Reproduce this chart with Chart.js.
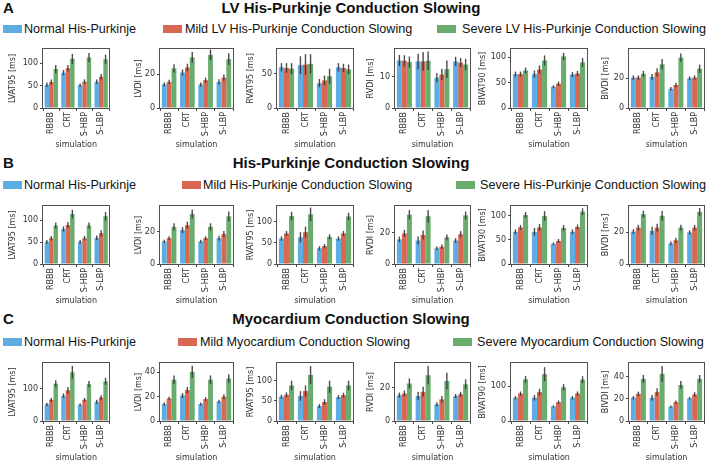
<!DOCTYPE html>
<html>
<head>
<meta charset="utf-8">
<script src="https://cdn.jsdelivr.net/npm/chart.js@4.4.1/dist/chart.umd.min.js"></script>
<style>
    body { margin: 0; background: #fff; width: 708px; height: 463px; position: relative; overflow: hidden; font-family: "Liberation Sans", Arial, sans-serif; color: #111; }
    .letra { position: absolute; left: 3px; font-weight: bold; font-size: 15px; line-height: 16px; }
    .titulo { position: absolute; left: 0; width: 702px; text-align: center; font-weight: bold; font-size: 15px; line-height: 16px; }
    .caixa { position: absolute; width: 19px; height: 8px; }
    .legenda { position: absolute; font-size: 12.6px; line-height: 14px; white-space: nowrap; }
    canvas { position: absolute; }
</style>
</head>
<body>
<script>
// DADOS
const categorias = ['RBBB', 'CRT', 'S-HBP', 'S-LBP'];
const metricas = ['LVAT95 [ms]', 'LVDI [ms]', 'RVAT95 [ms]', 'RVDI [ms]', 'BIVAT90 [ms]', 'BIVDI [ms]'];
const letras = ['A', 'B', 'C'];
const titulosLinha = ['LV His-Purkinje Conduction Slowing', 'His-Purkinje Conduction Slowing', 'Myocardium Conduction Slowing'];
const legendaNormal = ['Normal His-Purkinje', 'Normal His-Purkinje', 'Normal His-Purkinje'];
const legendaLeve = ['Mild LV His-Purkinje Conduction Slowing', 'Mild His-Purkinje Conduction Slowing', 'Mild Myocardium Conduction Slowing'];
const legendaSevera = ['Severe LV His-Purkinje Conduction Slowing', 'Severe His-Purkinje Conduction Slowing', 'Severe Myocardium Conduction Slowing'];

// médias - uma lista (RBBB, CRT, S-HBP, S-LBP) por métrica
const normalA = [[52, 79, 51, 59], [14, 21, 14, 15.5], [59, 62, 36, 59], [15.3, 15, 9.8, 15], [67, 67, 42, 66], [20.5, 21, 13, 20]];
const leveA = [[58, 89, 59, 70], [15.5, 24, 16.5, 18], [58, 63, 40, 58], [15.2, 15, 10.8, 14.6], [67, 76, 48, 68], [20.5, 24, 15.5, 20.5]];
const severaA = [[87, 110, 113, 109], [23.5, 30, 31.5, 29], [57, 64, 46, 56], [14.8, 15.2, 12.5, 14], [74, 94, 102, 90], [23, 29.5, 34, 26.5]];

const normalB = [[51, 80, 51, 60], [14, 21, 14, 16], [60, 63, 37, 60], [15.7, 15, 10, 15], [67, 67, 42, 67], [20.5, 21, 13, 20]];
const leveB = [[59, 89, 59, 70], [16, 24, 16, 18.5], [72, 75, 42, 72], [19.5, 18.5, 11, 19], [76, 76, 48, 77], [23, 23, 15, 23]];
const severaB = [[88, 114, 88, 109], [23, 31, 23, 29.5], [113, 117, 64, 112], [31.5, 30.5, 17, 31], [102, 100, 75, 109], [31.5, 30.5, 23, 33]];

const normalC = [[52, 79, 51, 60], [14, 21, 14, 16], [60, 62, 37, 59], [15.5, 15, 10, 15], [67, 67, 42, 67], [21, 21, 13, 20.5]];
const leveC = [[66, 96, 66, 73], [18.5, 25.5, 18, 20], [65, 74, 47, 64], [16.5, 17.5, 13, 16], [79, 83, 54, 79], [24.5, 26, 17, 24]];
const severaC = [[116, 152, 115, 124], [34, 40.5, 34, 35], [88, 114, 85, 88], [22.5, 27.5, 24, 22], [120, 135, 97, 119], [38, 42.5, 32.5, 38]];

// barras de erro (meia altura)
const erroNormalA = [[5, 6, 4, 5], [1.2, 1.8, 1.2, 1.5], [6, 13, 6, 6], [1.8, 2.5, 1.5, 1.5], [5, 7, 3, 5], [1.5, 2, 1.2, 1.3]];
const erroLeveA = [[6, 7, 5, 6], [1.3, 2.2, 1.5, 1.8], [7, 15, 7, 6], [1.8, 3, 1.8, 1.5], [5, 8, 4, 5], [1.5, 2.8, 1.5, 1.5]];
const erroSeveraA = [[9, 11, 10, 10], [2.5, 3.2, 3.2, 3.5], [8, 14, 11, 7], [1.8, 3, 2.8, 1.8], [6, 10, 7, 9], [2, 3.5, 2.8, 2.8]];

const erroNormalB = [[4, 6, 4, 5], [1, 1.8, 1, 1.5], [5, 12, 5, 5], [1.8, 2.5, 1.2, 1.5], [5, 8, 3, 5], [1.5, 2.5, 1.2, 1.3]];
const erroLeveB = [[5, 7, 5, 7], [1.2, 2.2, 1.2, 2], [6, 13, 5, 6], [2.2, 2.8, 1.5, 2], [5, 7, 4, 5], [1.8, 2.5, 1.5, 1.8]];
const erroSeveraB = [[7, 10, 7, 10], [2.2, 2.8, 2.2, 3], [10, 16, 6, 9], [3, 4, 1.8, 2.5], [6, 10, 6, 7], [2.2, 3, 1.8, 2.5]];

const erroNormalC = [[5, 7, 4, 6], [1.2, 2, 1.2, 1.5], [5, 12, 5, 5], [1.5, 2.5, 1.2, 1.2], [5, 8, 3, 5], [1.5, 2.5, 1, 1.2]];
const erroLeveC = [[6, 10, 6, 7], [1.5, 2.5, 1.5, 2], [6, 14, 7, 6], [1.8, 3, 2, 1.5], [6, 10, 5, 6], [2, 3.5, 1.5, 2]];
const erroSeveraC = [[11, 20, 10, 11], [3.5, 5, 3.5, 3.5], [12, 22, 15, 12], [3, 5.5, 5, 3], [10, 20, 9, 10], [3.5, 7, 3.5, 3.5]];

// ticks e limites do eixo y
const ticksA = [[0, 50, 100], [0, 20], [0, 50], [0, 10], [0, 50, 100], [0, 20]];
const ticksB = [[0, 50, 100], [0, 20], [0, 50, 100], [0, 20], [0, 50, 100], [0, 20]];
const ticksC = [[0, 100], [0, 20, 40], [0, 50, 100], [0, 20], [0, 100], [0, 20, 40]];
const maxA = [132, 35, 85.5, 19, 116.6, 39.8];
const maxB = [132.5, 35.9, 136.7, 37, 120.7, 36.7];
const maxC = [181, 47.7, 143.6, 34.8, 167, 52.3];

// LAYOUT (pixels)
const corNormal = 'rgb(93,173,226)';
const corLeve = 'rgb(217,104,82)';
const corSevera = 'rgb(106,172,110)';
const colEsquerda = [43, 160, 277, 395, 511, 629];
const colDireita = [110, 233, 353, 470, 587, 704];
const colTituloY = [13, 139, 251, 371, 483, 606];
const linhaTopo = [49, 206, 363];
const linhaBase = [108, 264, 421];
const linhaTitulo = [8, 163, 319];
const linhaLegenda = [29, 185, 342];
const legendaCaixaX = [[3, 163, 437], [3, 182, 456], [3, 178, 453]];
const legendaTextoX = [[24, 185, 462], [24, 203, 480], [24, 200, 477]];

Chart.defaults.font.family = "'DejaVu Sans', sans-serif";
Chart.defaults.font.size = 8;
Chart.defaults.color = '#333';

// desenha as barras de erro e a moldura do gráfico
const pluginErro = {
    id: 'barrasErro',
    afterDatasetsDraw(chart) {
        const ctx = chart.ctx;
        const y = chart.scales.y;
        ctx.save();
        ctx.strokeStyle = 'rgba(55,55,55,0.9)';
        ctx.lineWidth = 1.4;
        chart.data.datasets.forEach((ds, i) => {
            chart.getDatasetMeta(i).data.forEach((barra, j) => {
                ctx.beginPath();
                ctx.moveTo(barra.x, y.getPixelForValue(ds.data[j] - ds.erros[j]));
                ctx.lineTo(barra.x, y.getPixelForValue(ds.data[j] + ds.erros[j]));
                ctx.stroke();
            });
        });
        const a = chart.chartArea;
        ctx.strokeStyle = '#505050';
        ctx.lineWidth = 1;
        ctx.strokeRect(Math.round(a.left) - 0.5, Math.round(a.top) - 0.5, Math.round(a.right - a.left) + 1, Math.round(a.bottom - a.top) + 1);
        ctx.restore();
    }
};

function criarTexto(classe, texto, estilo) {
    const div = document.createElement('div');
    div.className = classe;
    div.textContent = texto;
    Object.assign(div.style, estilo);
    document.body.appendChild(div);
}

function plotarGrafico(linha, col, medias, erros, ticks, maximo) {
    const esquerda = colTituloY[col] - 5;
    const topo = linhaTopo[linha] - 8;
    const canvas = document.createElement('canvas');
    canvas.width = colDireita[col] + 2 - esquerda;
    canvas.height = linhaBase[linha] - topo + 42;
    canvas.style.left = esquerda + 'px';
    canvas.style.top = topo + 'px';
    document.body.appendChild(canvas);

    const grade = { display: true, drawOnChartArea: false, drawTicks: true, tickLength: 3, color: '#444' };

    new Chart(canvas, {
        type: 'bar',
        data: {
            labels: categorias,
            datasets: [
                { data: medias[0][col], erros: erros[0][col], backgroundColor: corNormal },
                { data: medias[1][col], erros: erros[1][col], backgroundColor: corLeve },
                { data: medias[2][col], erros: erros[2][col], backgroundColor: corSevera }
            ]
        },
        options: {
            responsive: false,
            animation: false,
            events: [],
            layout: { padding: { top: 8, right: 2, left: 0, bottom: 0 } },
            datasets: { bar: { categoryPercentage: 0.8, barPercentage: 1.0, borderWidth: 0 } },
            plugins: { legend: { display: false }, tooltip: { enabled: false } },
            scales: {
                x: {
                    offset: true,
                    grid: grade,
                    border: { display: false },
                    ticks: { minRotation: 90, maxRotation: 90, padding: 1, autoSkip: false },
                    title: { display: true, text: 'simulation', padding: 0 },
                    afterFit: (escala) => { escala.height = 42; }
                },
                y: {
                    min: 0,
                    max: maximo[col],
                    grid: grade,
                    border: { display: false },
                    ticks: { padding: 2 },
                    title: { display: true, text: metricas[col], padding: 0 },
                    afterBuildTicks: (escala) => { escala.ticks = ticks[col].map(v => ({ value: v })); },
                    afterFit: (escala) => { escala.width = colEsquerda[col] - esquerda; }
                }
            }
        },
        plugins: [pluginErro]
    });
}

const mediasLinhas = [[normalA, leveA, severaA], [normalB, leveB, severaB], [normalC, leveC, severaC]];
const errosLinhas = [[erroNormalA, erroLeveA, erroSeveraA], [erroNormalB, erroLeveB, erroSeveraB], [erroNormalC, erroLeveC, erroSeveraC]];
const ticksLinhas = [ticksA, ticksB, ticksC];
const maxLinhas = [maxA, maxB, maxC];
const cores = [corNormal, corLeve, corSevera];

for (let l = 0; l < 3; l++) {
    criarTexto('letra', letras[l], { top: (linhaTitulo[l] - 8) + 'px' });
    criarTexto('titulo', titulosLinha[l], { top: (linhaTitulo[l] - 8) + 'px' });

    const textos = [legendaNormal[l], legendaLeve[l], legendaSevera[l]];
    for (let s = 0; s < 3; s++) {
        const caixa = document.createElement('div');
        caixa.className = 'caixa';
        caixa.style.left = legendaCaixaX[l][s] + 'px';
        caixa.style.top = (linhaLegenda[l] - 4) + 'px';
        caixa.style.background = cores[s];
        document.body.appendChild(caixa);
        criarTexto('legenda', textos[s], { left: legendaTextoX[l][s] + 'px', top: (linhaLegenda[l] - 7) + 'px' });
    }

    for (let c = 0; c < 6; c++) {
        plotarGrafico(l, c, mediasLinhas[l], errosLinhas[l], ticksLinhas[l], maxLinhas[l]);
    }
}
</script>
</body>
</html>
